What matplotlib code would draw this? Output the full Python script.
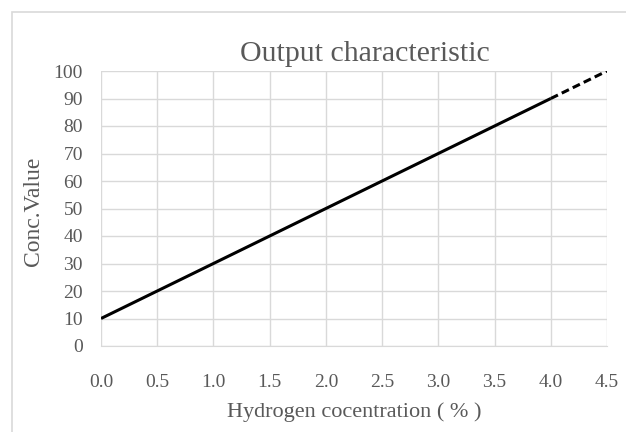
import matplotlib
matplotlib.use("Agg")
import matplotlib.pyplot as plt
from matplotlib.patches import Rectangle

# measured range (solid) and extrapolated range (dashed)
conc_solid = [0.0, 4.0]
value_solid = [10, 90]
conc_dash = [4.0, 4.5]
value_dash = [90, 100]

x_ticks = [0.0, 0.5, 1.0, 1.5, 2.0, 2.5, 3.0, 3.5, 4.0, 4.5]
y_ticks = [0, 10, 20, 30, 40, 50, 60, 70, 80, 90, 100]

W, H = 626, 432
text_color = "#595959"
grid_color = "#d9d9d9"
plt.rcParams["font.family"] = ["Liberation Serif", "DejaVu Serif"]

fig = plt.figure(figsize=(W / 100, H / 100), dpi=100)
# plot area in pixels: x 101..607, y 71..346
ax = fig.add_axes([101 / W, 1 - 346 / H, (607 - 101) / W, (346 - 71) / H])

# chart-area border (right/bottom run off the image)
fig.patches.append(Rectangle((12 / W, -0.05), 1.2, 1 - 12 / H + 0.05,
                             transform=fig.transFigure, fill=False,
                             edgecolor=grid_color, linewidth=1.2))

ax.plot(conc_solid, value_solid, color="black", linewidth=2.2, solid_capstyle="butt")
ax.plot(conc_dash, value_dash, color="black", linewidth=2.2, linestyle=(0, (2.6, 1.4)))

ax.set_xlim(0, 4.5)
ax.set_ylim(0, 100)
ax.set_xticks(x_ticks)
ax.set_xticklabels([f"{v:.1f}" for v in x_ticks])
ax.set_yticks(y_ticks)
ax.grid(True, color=grid_color, linewidth=1.0)
ax.set_axisbelow(True)
for s in ["top", "right", "left"]:
    ax.spines[s].set_visible(False)
ax.spines["bottom"].set_color(grid_color)
ax.tick_params(length=0, labelsize=14, colors=text_color)
ax.tick_params(axis="y", pad=13)
ax.tick_params(axis="x", pad=20)

fig.text(365 / W, 1 - 61 / H, "Output characteristic", fontsize=21.5,
         color=text_color, ha="center", va="baseline")
fig.text(354 / W, 1 - 412 / H, "Hydrogen cocentration ( % )", fontsize=16,
         color=text_color, ha="center", va="center")
fig.text(34 / W, 1 - 211 / H, "Conc.Value", fontsize=17, rotation=90,
         color=text_color, ha="center", va="center")

fig.savefig("out.png", dpi=100)
